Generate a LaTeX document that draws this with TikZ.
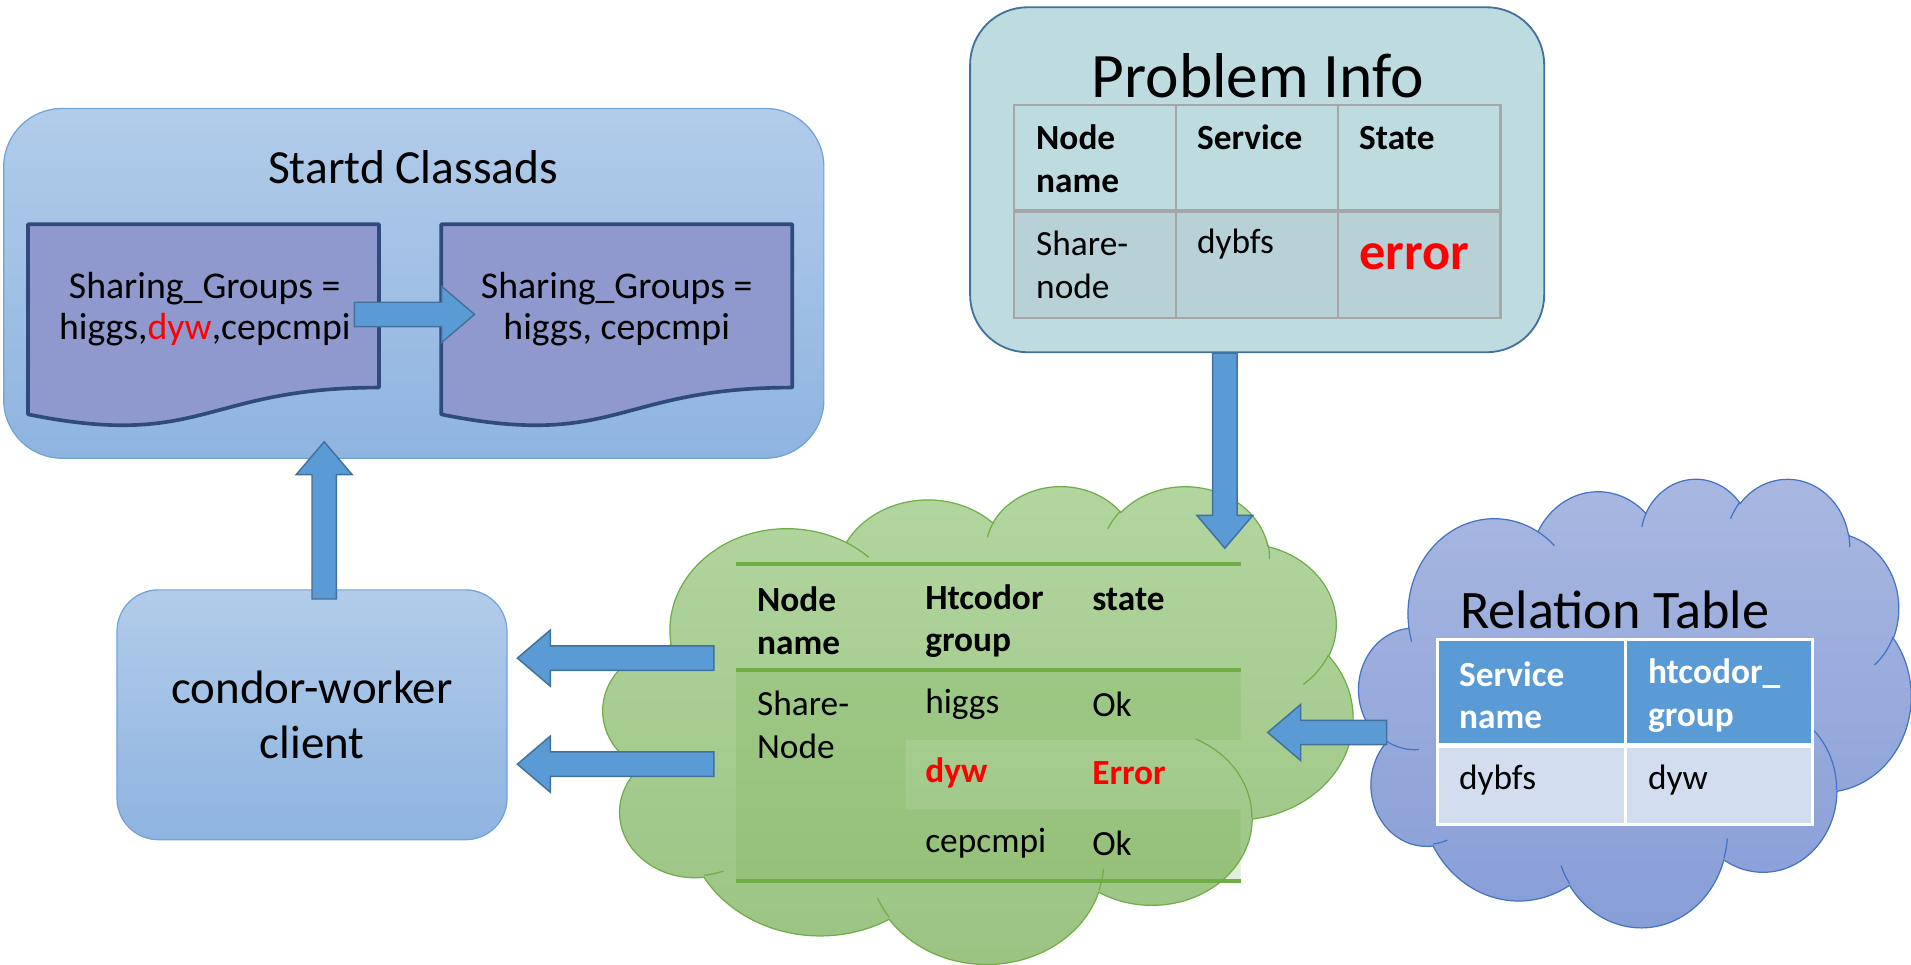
\documentclass[tikz,border=0pt]{standalone}
\usepackage{fontspec}
\setmainfont{Carlito}
\usetikzlibrary{positioning,calc}

\definecolor{boxtop}{HTML}{B2CCEA}
\definecolor{boxbot}{HTML}{8EB4E0}
\definecolor{boxline}{HTML}{6FA3D9}
\definecolor{docfill}{HTML}{9099CE}
\definecolor{docline}{HTML}{2F4A7D}
\definecolor{arrfill}{HTML}{5B9BD5}
\definecolor{arrline}{HTML}{41719C}
\definecolor{infofill}{HTML}{BEDCE0}
\definecolor{infoline}{HTML}{41719C}
\definecolor{infogrid}{HTML}{A6A6A6}
\definecolor{inforow}{HTML}{B8D1D6}
\definecolor{leaftop}{HTML}{B3D6A0}
\definecolor{leafbot}{HTML}{9AC382}
\definecolor{leafline}{HTML}{70AD47}
\definecolor{skytop}{HTML}{A9B8E1}
\definecolor{skybot}{HTML}{879DD7}
\definecolor{skyline}{HTML}{4472C4}
\definecolor{relhead}{HTML}{5B9BD5}
\definecolor{relrow}{HTML}{D2DEEF}

\newcommand\cellfont{\fontsize{29}{35}\selectfont}

% elliptic arc, angles measured as seen from the centre
\newcommand\pptarc[4]{arc[x radius=#1, y radius=#2,
  start angle={atan2(#1*sin(#3),#2*cos(#3))},
  delta angle={mod(atan2(#1*sin(#3+#4),#2*cos(#3+#4))-atan2(#1*sin(#3),#2*cos(#3))+720,360)}]}

% cloud outline in a 432 x 432 box
\newcommand\cloudpath{(39.00,143.70)
  \pptarc{67.53}{91.90}{-190.4875}{123.7805}
  \pptarc{53.33}{72.67}{-144.1024}{89.9452}
  \pptarc{43.65}{59.45}{-145.8079}{99.7230}
  \pptarc{48.57}{65.95}{-130.9861}{117.2417}
  \pptarc{53.33}{72.73}{-78.7089}{109.0269}
  \pptarc{67.75}{92.20}{-46.2673}{130.2690}
  \pptarc{57.85}{78.67}{0.6250}{114.0333}
  \pptarc{67.52}{92.15}{22.4516}{115.1726}
  \pptarc{77.20}{105.43}{66.2426}{75.7110}
  \pptarc{43.60}{59.18}{-274.9421}{146.7356}
  \pptarc{43.45}{59.45}{-246.8285}{152.5189} -- cycle}

% the small inner arcs of the cloud
\newcommand\cloudinner{(46.93,261.77) \pptarc{43.45}{59.45}{86.7420}{26.4295}
  (69.28,348.99) \pptarc{43.60}{59.18}{73.6105}{11.4475}
  (164.78,390.90) \pptarc{67.52}{92.15}{137.6242}{14.0811}
  (288.27,347.51) \pptarc{67.52}{92.15}{6.4533}{15.9984}
  (341.29,229.54) \pptarc{57.85}{78.67}{-70.2924}{70.9174}
  (417.98,153.54) \pptarc{53.33}{72.73}{30.3180}{27.7515}
  (383.24,54.26) \pptarc{48.57}{65.95}{-13.7443}{14.8589}
  (290.78,39.52) \pptarc{48.57}{65.95}{-149.1815}{18.1954}
  (221.41,47.20) \pptarc{43.65}{59.45}{-163.4943}{17.6864}
  (140.00,51.92) \pptarc{67.53}{91.90}{-66.7070}{12.3194}
  (41.27,157.89) \pptarc{67.53}{91.90}{157.6544}{11.8582}}

% #1 fill style, #2 line colour, #3 #4 top left corner, #5 #6 size
\newcommand\drawcloud[6]{%
  \begin{scope}[shift={(#3,#4)}, xscale=#5/432, yscale=#6/432]
    \draw[#1] \cloudpath;
    \draw[#2, line width=1pt] \cloudinner;
  \end{scope}}

% document sheet with a wavy bottom, #1 #2 top left corner
\newcommand\docshape[2]{%
  \draw[docbody] (#1,#2) -- ++(288,0) -- ++(0,134)
    .. controls ($(#1,#2)+(144,134)$) and ($(#1,#2)+(144,185)$) .. ($(#1,#2)+(0,156)$) -- cycle;}

% block arrow from #1 to #2
\tikzset{
  pics/fatarrow/.style={code={
    \draw[arrowbody] (0pt,-10pt) -- ({#1-27pt},-10pt) -- ({#1-27pt},-23pt)
      -- ({#1-0pt},0pt) -- ({#1-27pt},23pt) -- ({#1-27pt},10pt) -- (0pt,10pt) -- cycle;
  }},
}
\newcommand\fatarrow[2]{%
  \path let \p1=(#1), \p2=(#2),
    \n1={atan2(\y2-\y1,\x2-\x1)}, \n2={veclen(\x2-\x1,\y2-\y1)}
  in pic[rotate=\n1] at (\p1) {fatarrow=\n2};}

\begin{document}
\begin{tikzpicture}[x=1pt, y=-1pt,
    bluebox/.style = {draw=boxline, line width=1pt, top color=boxtop, bottom color=boxbot, inner sep=0pt},
    docbody/.style = {draw=docline, line width=3pt, fill=docfill, line join=round},
    doctext/.style = {align=center, inner sep=0pt, font=\fontsize{31}{34}\selectfont},
    arrowbody/.style = {draw=arrline, fill=arrfill, line width=1.2pt},
    leafcloud/.style = {draw=leafline, line width=1pt, top color=leaftop, bottom color=leafbot},
    skycloud/.style = {draw=skyline, line width=1pt, top color=skytop, bottom color=skybot},
    cell/.style = {anchor=west, align=left, inner sep=0pt, font=\cellfont},
    hcell/.style = {cell, font=\cellfont\bfseries},
    title/.style = {inner sep=0pt},
  ]
  \useasboundingbox (0,0) rectangle (1568,791);

  % startd classads
  \node[bluebox, rounded corners=48pt, minimum width=673pt, minimum height=287pt] (startd) at (339.5,232.5) {};
  \node[title, font=\fontsize{39}{47}\selectfont] (startdtitle) at (339,137) {Startd Classads};
  \docshape{23}{184}
  \docshape{362}{184}
  \node[doctext] (docA) at (168,253.5) {Sharing\_Groups =\\higgs,\textcolor{red}{dyw},cepcmpi};
  \node[doctext] (docB) at (506,253.5) {Sharing\_Groups =\\higgs, cepcmpi};
  \fatarrow{$(docA.east)+(3,4.5)$}{$(docB.west)+(-5,4.5)$}

  % client
  \node[bluebox, rounded corners=34pt, minimum width=320pt, minimum height=205pt,
        align=center, font=\fontsize{38.5}{45}\selectfont] (client) at (256,586.5) {condor-worker\\client};
  \fatarrow{$(client.north)+(10,8)$}{$(client.north |- startd.south)+(10,-14)$}

  % problem info
  \node[draw=infoline, line width=1.5pt, fill=infofill, rounded corners=47pt,
        minimum width=471pt, minimum height=283pt] (info) at (1031.5,147.5) {};
  \node[title, font=\fontsize{52}{62}\selectfont] (infotitle) at (1032,62) {Problem Info};
  \fill[inforow] (832,173) rectangle (1231,261);
  \draw[infogrid, line width=2pt] (832,86) rectangle (1231,261)
    (965,86) -- (965,261) (1098,86) -- (1098,261);
  \draw[infogrid, line width=3.5pt] (832,173) -- (1231,173);
  \node[hcell] (iname) at (850,130.5) {Node\\name};
  \node[hcell] (iserv) at (982,113) {Service};
  \node[hcell] (istate) at (1115,113) {State};
  \node[cell] (ishare) at (850,217.5) {Share-\\node};
  \node[cell] (idybfs) at (982,200) {dybfs};
  \node[cell, font=\fontsize{43}{50}\selectfont\bfseries, text=red] (ierror) at (1115,211) {error};

  % htcondor group table
  \drawcloud{leafcloud}{leafline}{495}{398}{615}{392}
  \fill[leafline, opacity=0.2] (604,550) rectangle (743,723)
    (743,550) rectangle (1018,607) (743,664) rectangle (1018,723);
  \draw[leafline, line width=3pt] (604,463) -- (1018,463)
    (604,550) -- (1018,550) (604,723) -- (1018,723);
  \node[minimum width=414pt, minimum height=260pt, inner sep=0pt] (gtab) at (811,593) {};
  \node[hcell] (gname) at (621,509.5) {Node\\name};
  \node[hcell] (ggroup) at (759,509.5) {Htcodor\\group};
  \node[hcell] (gstate) at (896,492) {state};
  \node[cell] (gshare) at (621,595) {Share-\\Node};
  \node[cell] (ghiggs) at (759,578) {higgs};
  \node[cell] (gok1) at (896,578) {Ok};
  \node[hcell, text=red] (gdyw) at (759,634) {dyw};
  \node[hcell, text=red] (gerr) at (896,634) {Error};
  \node[cell] (gcep) at (759,692) {cepcmpi};
  \node[cell] (gok2) at (896,692) {Ok};

  % relation table
  \drawcloud{skycloud}{skyline}{1115}{392}{453}{368}
  \node[title, anchor=west, font=\fontsize{44.5}{53}\selectfont] (reltitle) at (1198,500) {Relation Table};
  \node[fill=relrow, minimum width=307pt, minimum height=151pt, inner sep=0pt] (rtab) at (1333.5,600.5) {};
  \fill[relhead] (1180,525) rectangle (1487,612);
  \draw[white, line width=2.5pt] (rtab.north west) rectangle (rtab.south east) (1334,525) -- (1334,676);
  \draw[white, line width=4pt] (1180,612) -- (1487,612);
  \node[hcell, text=white] (rserv) at (1197,570.5) {Service\\name};
  \node[hcell, text=white] (rgroup) at (1352,570.5) {htcodor\_\\group};
  \node[cell] (rdybfs) at (1197,640) {dybfs};
  \node[cell] (rdyw) at (1352,640) {dyw};

  % flows between the parts
  \fatarrow{$(info.south)+(-26.5,0)$}{$(gtab.north)+(194,-13)$}
  \fatarrow{$(gtab.west)+(-18,-53)$}{$(client.east)+(8,-46.5)$}
  \fatarrow{$(gtab.west)+(-18,34)$}{$(client.east)+(8,40.5)$}
  \fatarrow{$(rtab.west)+(-42,0.5)$}{$(gtab.east)+(22,8)$}
\end{tikzpicture}
\end{document}
